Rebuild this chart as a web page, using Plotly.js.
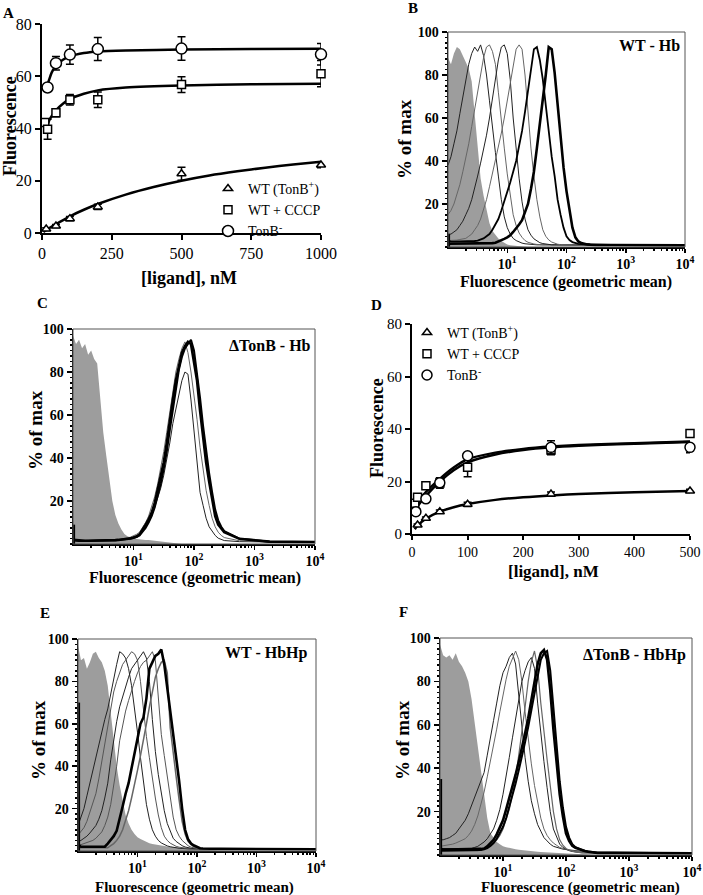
<!DOCTYPE html>
<html>
<head>
<meta charset="utf-8">
<script src="https://cdn.plot.ly/plotly-3.0.1.min.js"></script>
<style>
body{margin:0;background:#fff}
#chart{width:703px;height:895px}
</style>
</head>
<body>
<div id="chart"></div>
<script>
const W = 703, H = 895;
const SERIF = "Liberation Serif, Times New Roman, serif";
const GRAY = "#9d9d9d";

// ---- panel A: binding, [ligand] 0..1000 nM ----
const aTriX = [15, 50, 100, 200, 500, 1000];
const aTriY = [1.5, 2.7, 5.5, 10, 22.7, 26];
const aTriErr = [0.5, 0.6, 0.8, 1, 2.5, 1];
const aSqX = [10, 20, 50, 100, 200, 500, 1000];
const aSqY = [42.3, 39.7, 46, 51, 51, 56.8, 61];
const aSqErr = [0, 3.8, 1.5, 2, 3, 3, 5];
const aCirX = [20, 50, 100, 200, 500, 1000];
const aCirY = [55.7, 65, 68.3, 70.4, 70.6, 68.4];
const aCirErr = [0.5, 2.6, 3.7, 4.4, 4.5, 4.1];
const aTriFitX = [5, 25, 50, 100, 150, 200, 300, 400, 500, 600, 700, 800, 900, 1000];
const aTriFitY = [0.4, 1.8, 3.4, 6.4, 8.9, 11.1, 14.7, 17.6, 20.0, 22.0, 23.6, 25.0, 26.2, 27.3];
const aSqFitX = [8, 20, 30, 50, 75, 100, 150, 200, 300, 500, 750, 1000];
const aSqFitY = [38, 41.5, 44, 47, 49.5, 51.3, 53.3, 54.6, 55.7, 56.5, 56.9, 57.1];
const aCirFitX = [15, 25, 35, 50, 75, 100, 150, 200, 300, 500, 750, 1000];
const aCirFitY = [55, 58.5, 61.5, 64, 66.3, 67.6, 68.9, 69.5, 69.9, 70.2, 70.4, 70.5];

// ---- panel D: binding, [ligand] 0..500 nM ----
const dTriX = [10, 25, 50, 100, 250, 500];
const dTriY = [3.4, 6, 8.5, 11.3, 15.2, 16.4];
const dTriErr = [0.4, 0.5, 0.6, 0.8, 0.8, 0.6];
const dSqX = [5, 10, 25, 50, 100, 250, 500];
const dSqY = [11.7, 14, 18.4, 19.4, 25.4, 32, 38.3];
const dSqErr = [0, 0, 0.8, 2, 3.6, 1.8, 0];
const dCirX = [7, 25, 50, 100, 250, 500];
const dCirY = [8.5, 13.4, 19.5, 29.8, 33, 33];
const dCirErr = [0, 0, 0.8, 0.8, 2.5, 2];
const dFitX = [5, 10, 25, 50, 75, 100, 150, 200, 250, 300, 400, 500];
const dTriFit = [1.8, 3.2, 5.8, 8.5, 10.2, 11.4, 13.0, 14.0, 14.7, 15.2, 15.9, 16.4];
const dCirFit = [8.5, 10.5, 14.5, 20, 24.3, 27.3, 30.3, 32, 33, 33.6, 34.4, 35];
const dSqFit = [9.5, 12, 16, 21, 25.3, 28.5, 31, 32.4, 33.3, 33.9, 34.6, 35.2];

const legendNames = ["WT (TonB<sup>+</sup>)", "WT + CCCP", "TonB<sup>-</sup>"];

// ---- flow histograms: x is log10(fluorescence), y is % of max ----
const histE = [0, 0.05, 0.1, 0.15, 0.2, 0.25, 0.3, 0.35, 0.4, 0.45,
  0.5, 0.55, 0.6, 0.65, 0.7, 0.75, 0.8, 0.85, 0.9, 0.95,
  1, 1.05, 1.1, 1.15, 1.2, 1.25, 1.3, 1.35, 1.4, 1.45,
  1.5, 1.55, 1.6, 1.65, 1.7, 1.75, 1.8, 1.85, 1.9, 1.95,
  2, 2.05, 2.1, 2.15, 2.2, 2.25, 2.3, 2.35, 2.4, 2.45,
  2.5, 2.75, 3.25, 4];
const spikeE = [0.01, 0.01];
const decadeText = ["10<sup>1</sup>", "10<sup>2</sup>", "10<sup>3</sup>", "10<sup>4</sup>"];

// B: WT - Hb
const bGray = [88, 85, 90, 93, 92, 89, 86, 83, 77, 62,
  44, 32, 24, 17, 11, 7.5, 5.5, 4, 2.8, 1.8,
  1.2, 0.8, 0.6, 0.4, 0.3, 0.2, 0.1, 0, 0, 0,
  0, 0, 0, 0, 0, 0, 0, 0, 0, 0,
  0, 0, 0, 0, 0, 0, 0, 0, 0, 0,
  0, 0, 0, 0];
const bThin1 = [38, 42, 48, 54, 62, 70, 77, 85, 90, 93,
  91, 94, 89, 80, 68, 55, 44, 33, 22, 14,
  9, 6, 4, 3, 2.2, 1.8, 1.5, 1.3, 1.2, 1.1,
  1, 1, 1, 1, 1, 1, 1, 1, 1, 1,
  1, 1, 1, 1, 1, 1, 1, 1, 1, 1,
  1, 0.9, 0.9, 0.8];
const bThin2 = [15, 17, 20, 24, 29, 35, 41, 48, 56, 64,
  73, 82, 88, 93, 94, 91, 85, 72, 58, 46,
  34, 24, 15, 10, 6.5, 4.5, 3, 2.2, 1.7, 1.4,
  1.2, 1, 1, 1, 1, 1, 1, 1, 1, 1,
  1, 1, 1, 1, 1, 1, 1, 1, 1, 1,
  1, 0.9, 0.9, 0.8];
const bThin3 = [6, 6, 7, 8, 10, 12, 15, 18, 22, 27,
  33, 39, 45, 52, 60, 69, 78, 87, 93, 94,
  90, 78, 60, 45, 32, 21, 13, 8, 5.5, 3.8,
  2.7, 2, 1.6, 1.3, 1.1, 1, 1, 1, 1, 1,
  1, 1, 1, 1, 1, 1, 1, 1, 1, 1,
  1, 0.9, 0.9, 0.8];
const bThin4 = [3, 3, 3, 3.2, 3.5, 3.8, 4, 5, 6, 8,
  10, 13, 17, 22, 28, 34, 40, 47, 53, 60,
  68, 77, 86, 92, 94, 92, 80, 62, 46, 33,
  22, 14, 8, 5, 3.3, 2.3, 1.7, 1.3, 1.1, 1,
  1, 1, 1, 1, 1, 1, 1, 1, 1, 1,
  1, 0.9, 0.9, 0.8];
const bMid = [3, 2.5, 2.5, 2.5, 2.5, 2.5, 2.5, 2.5, 2.6, 2.8,
  3, 3.5, 4, 5, 6, 8, 10.5, 13, 17, 21,
  25, 30, 35, 40, 47, 54, 63, 73, 84, 92,
  93, 87, 78, 66, 51, 42, 33, 22, 15, 9,
  5, 3.2, 2.3, 1.8, 1.5, 1.3, 1.2, 1.1, 1, 1,
  1, 0.9, 0.9, 0.8];
const bThick = [1.5, 1.5, 1.5, 1.5, 1.5, 1.5, 1.5, 1.5, 1.5, 1.6,
  1.6, 1.6, 1.7, 1.7, 1.8, 1.8, 2, 2.5, 3, 3.8,
  4.5, 5.5, 7, 8.5, 10.5, 12.5, 16, 20, 27, 35,
  46, 57, 68, 80, 93, 92, 81, 66, 52, 37,
  26, 17, 9, 4.5, 2.6, 1.8, 1.4, 1.2, 1.1, 1,
  1, 0.9, 0.9, 0.8];
const bSpike = [0, 6];

// C: deltaTonB - Hb
const cGray = [97, 93, 95, 91, 93, 88, 90, 86, 84, 66,
  52, 41, 30, 20, 13.5, 9.5, 6.8, 4.6, 3.6, 2.9,
  2.5, 2.3, 2.1, 2, 1.9, 1.9, 1.7, 1.5, 1.3, 1.1,
  0.9, 0.7, 0.5, 0.3, 0.1, 0, 0, 0, 0, 0,
  0, 0, 0, 0, 0, 0, 0, 0, 0, 0,
  0, 0, 0, 0];
const cThin = [2, 1.5, 1.5, 1.5, 1.5, 1.5, 1.5, 1.5, 1.5, 1.5,
  1.5, 1.5, 1.6, 1.7, 1.8, 1.9, 2, 2.2, 2.5, 2.8,
  3.2, 3.8, 4.5, 6, 8, 10, 13, 17, 21, 26,
  32, 39, 47, 56, 63, 70, 76, 80, 79, 67,
  52, 37, 24, 18, 12, 8, 5.7, 4, 2.7, 2,
  1.6, 1.1, 0.9, 0.8];
const cGrayLine = [1.5, 1.5, 1.5, 1.5, 1.5, 1.5, 1.5, 1.5, 1.5, 1.5,
  1.5, 1.5, 1.6, 1.7, 1.8, 2, 2.2, 2.5, 2.8, 3.2,
  3.8, 4.5, 5.5, 7.5, 10, 13, 17, 22, 28, 35,
  43, 52, 62, 71, 80, 86, 91, 94, 89, 80,
  70, 58, 45, 34, 25, 18, 12, 8, 5.5, 4,
  3, 1.5, 1, 0.8];
const cThick1 = [2, 1.8, 1.6, 1.5, 1.5, 1.5, 1.5, 1.5, 1.5, 1.6,
  1.6, 1.7, 1.7, 1.8, 1.8, 1.9, 2, 2.2, 2.4, 2.6,
  3, 3.5, 4.5, 6.5, 9, 11.5, 14.5, 19, 25, 31,
  38, 47, 58, 67, 76, 83, 89, 92, 94, 93,
  85, 76, 62, 50, 38, 29, 20, 13, 9, 7,
  5.5, 2.4, 1.1, 0.9];
const cThick2 = [1.8, 1.5, 1.4, 1.4, 1.4, 1.4, 1.4, 1.4, 1.5, 1.5,
  1.5, 1.6, 1.6, 1.7, 1.8, 1.9, 2, 2.1, 2.3, 2.5,
  2.8, 3.2, 4, 5.5, 7.5, 10, 13, 17, 22, 28,
  35, 43, 53, 63, 73, 81, 87, 91, 93, 95,
  90, 80, 68, 55, 43, 33, 24, 16, 11, 8,
  6, 2.5, 1.1, 0.9];
const cSpike = [0, 9];

// E: WT - HbHp
const eGray = [97, 90, 91, 86, 89, 93, 94, 91, 89, 85,
  78, 65, 52, 40, 31, 23, 17, 13, 10, 8,
  6.5, 5.7, 5, 4.2, 3.6, 3.3, 3, 2.7, 2.5, 2.3,
  2.1, 2, 1.8, 1.6, 1.5, 1.4, 1.4, 1.3, 1.3, 1.2,
  1.1, 1, 0.9, 0.8, 0.6, 0.4, 0.2, 0, 0, 0,
  0, 0, 0, 0];
const eThin1 = [12, 16, 20, 26, 32, 38, 45, 50, 56, 62,
  67, 74, 82, 88, 94, 93, 91, 86, 78, 68,
  56, 44, 32, 22, 15, 10, 7, 5, 3.8, 3,
  2.4, 2, 1.7, 1.5, 1.3, 1.2, 1, 1, 1, 1,
  1, 1, 1, 1, 1, 1, 1, 1, 1, 1,
  1, 1, 0.9, 0.8];
const eThin2 = [7.5, 9, 11, 14, 18, 22, 27, 34, 42, 51,
  60, 68, 75, 80, 84, 88, 90, 92, 94, 93,
  90, 80, 66, 54, 44, 34, 25, 17, 11, 7,
  5, 3.7, 2.8, 2.2, 1.8, 1.5, 1.3, 1.2, 1, 1,
  1, 1, 1, 1, 1, 1, 1, 1, 1, 1,
  1, 1, 0.9, 0.8];
const eThin3 = [4.4, 5, 6, 7, 8.5, 10, 12, 15, 19, 25,
  32, 43, 53, 61, 68, 73, 78, 82, 86, 88,
  90, 92, 94, 91, 80, 62, 47, 36, 27, 19,
  13, 9, 6, 4.5, 3.3, 2.5, 1.9, 1.5, 1.3, 1.1,
  1, 1, 1, 1, 1, 1, 1, 1, 1, 1,
  1, 1, 0.9, 0.8];
const eThin4 = [3, 3, 3.5, 4, 4.5, 5, 6, 7.5, 9, 12,
  16, 22, 30, 40, 52, 60, 66, 71, 76, 80,
  84, 87, 89, 90, 92, 94, 90, 72, 55, 45,
  35, 25, 16, 10, 7, 5, 3.5, 2.5, 1.8, 1.4,
  1.2, 1, 1, 1, 1, 1, 1, 1, 1, 1,
  1, 1, 0.9, 0.8];
const eMid = [1.5, 1.5, 1.5, 1.5, 1.5, 1.5, 1.5, 1.5, 1.5, 1.5,
  1.5, 2.5, 3.5, 5, 7, 10, 14, 19, 25, 31,
  38, 45, 52, 60, 68, 76, 82, 86, 89, 90,
  84, 58, 45, 35, 24, 14, 8, 4.5, 3, 2,
  1.5, 1.2, 1, 1, 1, 1, 1, 1, 1, 1,
  1, 1, 0.9, 0.8];
const eThick = [3, 2, 2, 2, 2, 2, 2, 2, 2, 2,
  3.5, 5, 7, 9.5, 16, 21, 27, 32, 39, 46,
  53, 60, 63, 72, 86, 89, 92, 93, 95, 88,
  77, 68, 56, 46, 33, 20, 10, 5.5, 3.5, 2.6,
  1.8, 1.3, 1.2, 1.1, 1, 1, 1, 1, 1, 1,
  1, 1, 0.9, 0.8];
const eSpike = [0, 70];

// F: deltaTonB - HbHp
const fGray = [97, 92, 91, 92, 90, 93, 89, 87, 84, 80,
  72, 61, 51, 39, 27, 17, 10, 8, 6, 5,
  4, 3.6, 3.2, 3, 2.7, 2.4, 2.2, 2, 1.8, 1.7,
  1.6, 1.5, 1.4, 1.3, 1.2, 1.1, 1, 0.9, 0.8, 0.8,
  0.7, 0.6, 0.5, 0.4, 0.3, 0.2, 0.1, 0, 0, 0,
  0, 0, 0, 0];
const fThin1 = [7, 7, 7.5, 8, 9, 10, 12, 14, 16, 19,
  23, 27, 31, 34, 38, 46, 55, 62, 70, 78,
  84, 87, 91, 93, 88, 73, 58, 45, 34, 25,
  19, 14, 11, 8, 6.5, 5, 4, 3.5, 3, 2.7,
  2.5, 2.3, 2.2, 2, 1.8, 1.6, 1.5, 1.4, 1.3, 1.2,
  1.1, 1, 0.9, 0.8];
const fThin2 = [4, 4.2, 4.5, 4.8, 5, 5.5, 6, 6.8, 7.5, 9,
  11, 14, 18, 23, 29, 36, 43, 50, 58, 66,
  74, 81, 87, 91, 94, 90, 80, 66, 53, 42,
  32, 24, 17, 12, 9, 7, 5.5, 4.5, 3.5, 3,
  2.5, 2.2, 2, 1.8, 1.6, 1.5, 1.4, 1.3, 1.2, 1.1,
  1, 1, 0.9, 0.8];
const fThin3 = [3, 3, 3, 3, 3, 3, 3, 3, 3, 3,
  3, 3.5, 4, 5, 6, 7.5, 9.5, 12, 16, 21,
  28, 36, 45, 54, 63, 72, 80, 85, 89, 91,
  86, 70, 55, 43, 31, 20, 12, 8, 5, 3.5,
  2.6, 2, 1.6, 1.3, 1.1, 1, 1, 1, 1, 1,
  1, 1, 0.9, 0.8];
const fThin4 = [2, 2, 2, 2, 2, 2, 2, 2, 2, 2,
  2, 2, 2, 2.5, 3, 3.5, 4.5, 5.5, 7, 9,
  12, 16, 21, 28, 36, 46, 56, 68, 80, 89,
  94, 86, 70, 56, 44, 32, 20, 12, 7, 4.5,
  3, 2.2, 1.7, 1.4, 1.2, 1, 1, 1, 1, 1,
  1, 1, 0.9, 0.8];
const fThick1 = [3, 2.5, 2.5, 2.5, 2.5, 2.5, 2.5, 2.5, 2.5, 2.5,
  2.5, 2.5, 2.5, 2.8, 3, 4, 5.5, 7, 9.5, 12.5,
  16, 21, 26, 31, 37, 43, 49, 56, 63, 71,
  80, 88, 93, 94.5, 90, 76, 58, 42, 28, 18,
  10, 6.5, 4.2, 3.3, 2.7, 2.2, 1.8, 1.5, 1.3, 1.1,
  1, 1, 0.9, 0.8];
const fThick2 = [2, 2, 2, 2, 2, 2, 2, 2, 2, 2,
  2, 2, 2, 2.3, 2.6, 3.2, 4.2, 5.5, 7.5, 10,
  13, 17, 22, 27, 33, 39, 45, 52, 59, 67,
  75, 83, 90, 93, 94, 85, 68, 50, 34, 22,
  13, 8, 5, 3.6, 2.8, 2.3, 1.9, 1.6, 1.3, 1.1,
  1, 1, 0.9, 0.8];
const fSpike = [0, 35];

// subplot boxes in page pixels: [left, right, top, bottom]
const boxes = {
	"":  [42, 321, 24, 233],   // A
	"2": [448, 685, 32, 247],  // B
	"3": [73, 315, 329, 544],  // C
	"4": [412, 690, 324, 534], // D
	"5": [78, 316, 639, 851],  // E
	"6": [440, 692, 638, 855]  // F
};
const domX = id => [boxes[id][0] / W, boxes[id][1] / W];
const domY = id => [1 - boxes[id][3] / H, 1 - boxes[id][2] / H];

const logMinor = [];
for(let k = 0; k < 4; k++){
	for(let d = 2; d <= 9; d++){logMinor.push(k + Math.log10(d));}
}

const fit = (x, y, ax) => ({
	x, y, xaxis: "x" + ax, yaxis: "y" + ax, mode: "lines", showlegend: false,
	line: {color: "black", width: 2.5, shape: "spline", smoothing: 0.8}, hoverinfo: "skip"
});
const pts = (x, y, err, symbol, size, name, ax, legend) => ({
	x, y, name, legend, xaxis: "x" + ax, yaxis: "y" + ax, mode: "markers", cliponaxis: false,
	marker: {symbol, size, color: "white", line: {color: "black", width: 1.5}},
	error_y: {type: "data", array: err, visible: true, color: "black", thickness: 1.5, width: 4}
});
const histFill = (y, ax) => ({
	x: histE, y, xaxis: "x" + ax, yaxis: "y" + ax, mode: "lines", fill: "tozeroy",
	fillcolor: GRAY, line: {width: 0, color: GRAY}, showlegend: false, hoverinfo: "skip"
});
const histLine = (y, ax, color, width) => ({
	x: histE, y, xaxis: "x" + ax, yaxis: "y" + ax, mode: "lines",
	line: {color, width}, showlegend: false, hoverinfo: "skip"
});
const spike = (y, ax) => ({
	x: spikeE, y, xaxis: "x" + ax, yaxis: "y" + ax, mode: "lines",
	line: {color: "black", width: 3}, showlegend: false, hoverinfo: "skip"
});

const data = [
	fit(aTriFitX, aTriFitY, ""), fit(aSqFitX, aSqFitY, ""), fit(aCirFitX, aCirFitY, ""),
	pts(aTriX, aTriY, aTriErr, "triangle-up", 8, legendNames[0], "", "legend"),
	pts(aSqX, aSqY, aSqErr, "square", 8, legendNames[1], "", "legend"),
	pts(aCirX, aCirY, aCirErr, "circle", 11, legendNames[2], "", "legend"),

	fit(dFitX, dTriFit, "4"), fit(dFitX, dSqFit, "4"), fit(dFitX, dCirFit, "4"),
	pts(dTriX, dTriY, dTriErr, "triangle-up", 8, legendNames[0], "4", "legend2"),
	pts(dSqX, dSqY, dSqErr, "square", 8, legendNames[1], "4", "legend2"),
	pts(dCirX, dCirY, dCirErr, "circle", 10, legendNames[2], "4", "legend2"),

	histFill(bGray, "2"),
	histLine(bThin1, "2", "#222", 1), histLine(bThin2, "2", "#666", 1),
	histLine(bThin3, "2", "#222", 1), histLine(bThin4, "2", "#666", 1),
	histLine(bMid, "2", "black", 1.8), histLine(bThick, "2", "black", 2.6),
	spike(bSpike, "2"),

	histFill(cGray, "3"),
	histLine(cThin, "3", "#222", 1), histLine(cGrayLine, "3", "#666", 1),
	histLine(cThick2, "3", "black", 2), histLine(cThick1, "3", "black", 2.6),
	spike(cSpike, "3"),

	histFill(eGray, "5"),
	histLine(eThin1, "5", "#222", 1), histLine(eThin2, "5", "#555", 1),
	histLine(eThin3, "5", "#222", 1), histLine(eThin4, "5", "#555", 1),
	histLine(eMid, "5", "#666", 1.5), histLine(eThick, "5", "black", 2.6),
	spike(eSpike, "5"),

	histFill(fGray, "6"),
	histLine(fThin1, "6", "#222", 1), histLine(fThin2, "6", "#666", 1),
	histLine(fThin3, "6", "#222", 1), histLine(fThin4, "6", "#666", 1.2),
	histLine(fThick2, "6", "black", 2), histLine(fThick1, "6", "black", 2.6),
	spike(fSpike, "6")
];

const boldTick = {family: SERIF, size: 14, color: "black", weight: "bold"};

const linX = (id, range, tickvals, size, ticklen) => ({
	domain: domX(id), anchor: "y" + id, range, tickmode: "array", tickvals,
	ticks: "outside", ticklen, tickwidth: 2, tickcolor: "black",
	showline: true, linewidth: 2, linecolor: "black",
	showgrid: false, zeroline: false, tickfont: {family: SERIF, size, color: "black"}
});
const linY = (id, size) => ({
	domain: domY(id), anchor: "x" + id, range: [0, 80], tickmode: "array", tickvals: [0, 20, 40, 60, 80],
	ticks: "outside", ticklen: 5, tickwidth: 2, tickcolor: "black",
	showline: true, linewidth: 2, linecolor: "black",
	showgrid: false, zeroline: false, tickfont: {family: SERIF, size, color: "black"}
});
const histX = id => ({
	domain: domX(id), anchor: "y" + id, range: [0, 4],
	tickmode: "array", tickvals: [1, 2, 3, 4], ticktext: decadeText,
	ticks: "outside", ticklen: 4, tickwidth: 1.5, tickcolor: "black",
	minor: {tickmode: "array", tickvals: logMinor, ticks: "outside", ticklen: 2, tickcolor: "black"},
	showline: true, linewidth: 1.5, linecolor: "black",
	showgrid: false, zeroline: false, tickfont: boldTick
});
const histY = id => ({
	domain: domY(id), anchor: "x" + id, range: [0, 100],
	tickmode: "array", tickvals: [20, 40, 60, 80, 100],
	ticks: "outside", ticklen: 5, tickwidth: 1.5, tickcolor: "black",
	minor: {tick0: 0, dtick: 2.5, ticks: "outside", ticklen: 2, tickcolor: "black"},
	showline: true, linewidth: 1.5, linecolor: "black",
	showgrid: false, zeroline: false, tickfont: boldTick
});

const note = (text, x, y, size, extra) => Object.assign({
	text, x: x / W, y: 1 - y / H, xref: "paper", yref: "paper", showarrow: false,
	xanchor: "center", yanchor: "middle",
	font: {family: SERIF, size, color: "black", weight: "bold"}
}, extra || {});
const rot = {textangle: -90};
const right = {xanchor: "right"};

const annotations = [
	note("A", 8, 13, 15), note("B", 413, 8, 15), note("C", 42, 303, 15),
	note("D", 376, 305, 15), note("E", 45, 613, 15), note("F", 404, 612, 15),
	note("Fluorescence", 10, 126, 18, rot), note("[ligand], nM", 189, 278, 18),
	note("% of max", 404, 139, 19, rot), note("Fluorescence (geometric mean)", 566, 282, 16),
	note("WT - Hb", 682, 45, 16, right),
	note("% of max", 35, 430, 19, rot), note("Fluorescence (geometric mean)", 195, 578, 16),
	note("ΔTonB - Hb", 313, 345, 16, right),
	note("Fluorescence", 377, 428, 18, rot), note("[ligand], nM", 553, 571, 17),
	note("% of max", 38, 740, 19, rot), note("Fluorescence (geometric mean)", 194, 887, 15),
	note("WT - HbHp", 310, 653, 16, right),
	note("% of max", 402, 740, 19, rot), note("Fluorescence (geometric mean)", 580, 887, 15),
	note("ΔTonB - HbHp", 688, 655, 16, right)
];

const shapes = ["2", "3", "5", "6"].map(id => ({
	type: "rect", xref: "x" + id + " domain", yref: "y" + id + " domain",
	x0: 0, x1: 1, y0: 0, y1: 1, line: {color: "#555", width: 1}, layer: "above"
}));

const legendBase = {
	xanchor: "left", yanchor: "top", bgcolor: "rgba(0,0,0,0)", borderwidth: 0,
	font: {family: SERIF, size: 14, color: "black"}, tracegroupgap: 0
};

const layout = {
	width: W, height: H,
	margin: {l: 0, r: 0, t: 0, b: 0},
	paper_bgcolor: "white", plot_bgcolor: "rgba(0,0,0,0)",
	showlegend: true,
	legend: Object.assign({x: 208 / W, y: 1 - 173 / H}, legendBase),
	legend2: Object.assign({x: 407 / W, y: 1 - 317 / H}, legendBase),
	xaxis: linX("", [0, 1000], [0, 250, 500, 750, 1000], 16, 5), yaxis: linY("", 16),
	xaxis4: linX("4", [0, 500], [0, 100, 200, 300, 400, 500], 14, 4), yaxis4: linY("4", 15),
	xaxis2: histX("2"), yaxis2: histY("2"),
	xaxis3: histX("3"), yaxis3: histY("3"),
	xaxis5: histX("5"), yaxis5: histY("5"),
	xaxis6: histX("6"), yaxis6: histY("6"),
	annotations, shapes
};

Plotly.newPlot("chart", data, layout, {staticPlot: true, displayModeBar: false});
</script>
</body>
</html>
